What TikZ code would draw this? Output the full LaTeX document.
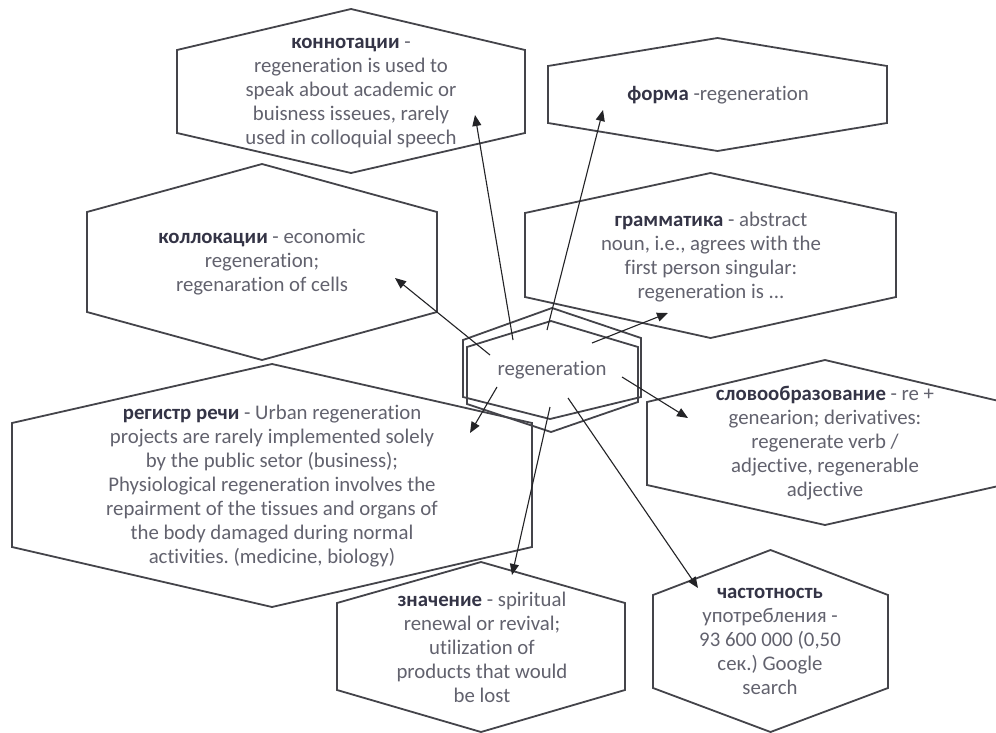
\documentclass[tikz,border=0pt]{standalone}
\usepackage{fontspec}
\setmainfont{Carlito}[RawFeature={-liga;-dlig;-clig}]
\frenchspacing
\usetikzlibrary{arrows.meta}
\definecolor{hexcol}{RGB}{68,68,74}
\definecolor{arrcol}{RGB}{35,35,38}
\definecolor{txtcol}{RGB}{98,98,110}
\definecolor{boldcol}{RGB}{52,52,70}
\newcommand\hexpath[6]{% L R topapex sidetop sidebottom bottomapex
  \draw[hexline] (#1,#4) -- ({(#1+#2)/2},#3) -- (#2,#4) -- (#2,#5) -- ({(#1+#2)/2},#6) -- (#1,#5) -- cycle;}
\newcommand\kw[1]{{\bfseries\color{boldcol}#1}}
\begin{document}
\begin{tikzpicture}[x=1pt,y=-1pt,
  hexline/.style={draw=hexcol,line width=1.8pt,line join=miter},
  arr/.style={draw=arrcol,line width=1.1pt,-{Triangle[length=11pt,width=9pt]}},
  lbl/.style={align=center,inner sep=0pt,text=txtcol,font=\fontsize{20.8}{24}\selectfont}]
\useasboundingbox (0,0) rectangle (996,733);
\fill[white] (0,0) rectangle (996,733);
\begin{scope}
\clip (0,0) rectangle (996,733);
% hexagons
\hexpath{177}{525}{9}{50}{133}{173}
\hexpath{548}{887}{38}{66}{123}{151}
\hexpath{525}{896}{173}{213}{297}{338}
\hexpath{87}{437}{164}{212}{312}{360}
\hexpath{12}{532}{364}{423}{547}{607}
\hexpath{337}{625}{562}{603}{690}{732}
\hexpath{647}{1003}{360}{402}{485}{525}
\hexpath{653}{888}{550}{595}{688}{732}
% central doubled hexagon
\draw[hexline] (463,340) -- (552,308) -- (641,338) -- (641,397) -- (550,419) -- (463,397) -- cycle;
\draw[hexline] (467,347) -- (551,321) -- (638,347) -- (638,402) -- (551,432) -- (467,404) -- cycle;
\end{scope}
% texts
\node[lbl] (konn) at (351,93) {\kw{коннотации} -\\regeneration is used to\\speak about academic or\\buisness isseues, rarely\\used in colloquial speech};
\node[lbl] (forma) at (718,95) {\kw{форма} -regeneration};
\node[lbl] (gram) at (711,257) {\kw{грамматика} - abstract\\noun, i.e., agrees with the\\first person singular:\\regeneration is ...};
\node[lbl] (koll) at (262,262) {\kw{коллокации} - economic\\regeneration;\\regenaration of cells};
\node[lbl] (reg) at (272,486) {\kw{регистр речи} - Urban regeneration\\projects are rarely implemented solely\\by the public setor (business);\\Physiological regeneration involves the\\repairment of the tissues and organs of\\the body damaged during normal\\activities. (medicine, biology)};
\node[lbl] (znach) at (482,647) {\kw{значение} - spiritual\\renewal or revival;\\utilization of\\products that would\\be lost};
\node[lbl] (slovo) at (825,443) {\kw{словообразование} - re +\\genearion; derivatives:\\regenerate verb /\\adjective, regenerable\\adjective};
\node[lbl] (chast) at (770,641) {\kw{частотность}\\употребления -\\93 600 000 (0,50\\сек.) Google\\search};
\node[lbl] (center) at (552,370) {regeneration};
% arrow end points
\coordinate (s1) at (513,340); \coordinate (e1) at (475,115);
\coordinate (s2) at (547,330); \coordinate (e2) at (603,110);
\coordinate (s3) at (592,343); \coordinate (e3) at (668,313);
\coordinate (s4) at (490,355); \coordinate (e4) at (395,278);
\coordinate (s5) at (497,387); \coordinate (e5) at (470,433);
\coordinate (s6) at (550,407); \coordinate (e6) at (512,575);
\coordinate (s7) at (568,398); \coordinate (e7) at (698,588);
\coordinate (s8) at (622,377); \coordinate (e8) at (688,418);
\draw[arr] (s1) -- (e1);
\draw[arr] (s2) -- (e2);
\draw[arr] (s3) -- (e3);
\draw[arr] (s4) -- (e4);
\draw[arr] (s5) -- (e5);
\draw[arr] (s6) -- (e6);
\draw[arr] (s7) -- (e7);
\draw[arr] (s8) -- (e8);
\end{tikzpicture}
\end{document}
